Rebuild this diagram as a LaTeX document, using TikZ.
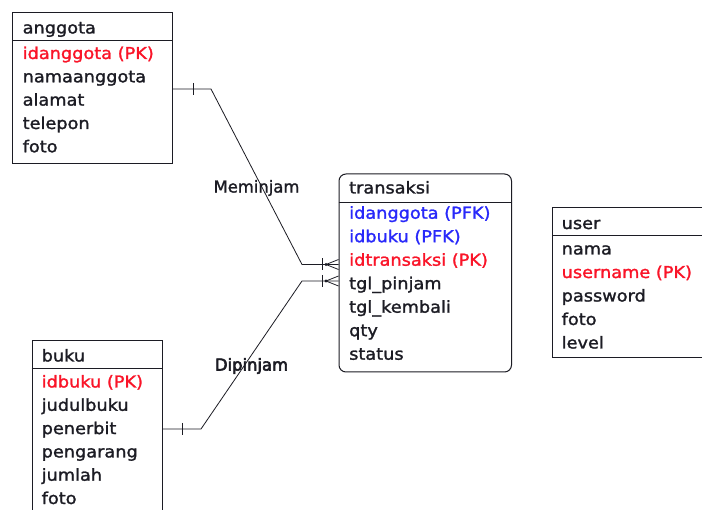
\documentclass[tikz,border=0pt]{standalone}
\usepackage{fontspec}
\setmainfont{DejaVu Sans}[FakeStretch=1.08]
\newfontfamily\relfont{DejaVu Sans}
\usetikzlibrary{calc}
\definecolor{ink}{RGB}{28,28,36}
\definecolor{pkred}{RGB}{250,20,40}
\definecolor{fkblue}{RGB}{40,40,250}
% outlined glyphs give the text a little more weight
\newcommand\inkweight[1]{\special{pdf:literal direct 2 Tr #1 w}}
\begin{document}
\begin{tikzpicture}[x=1pt,y=-1pt,
  entity/.style={draw=ink, line width=1pt, anchor=north west, inner sep=0pt},
  rule/.style={draw=ink, line width=1pt},
  attr/.style={anchor=base west, inner sep=0pt, text=ink, font=\fontsize{16.4}{18}\selectfont\inkweight{0.25}},
  pk/.style={attr, text=pkred},
  fk/.style={attr, text=fkblue},
  rel/.style={draw=ink, line width=0.8pt},
  relname/.style={inner sep=0pt, text=ink, font=\fontsize{16.4}{18}\relfont\inkweight{0.25}},
  heavyname/.style={relname, font=\fontsize{16.4}{18}\relfont\inkweight{0.6}}]
\clip (0,0) rectangle (702,510);
\fill[white] (0,0) rectangle (702,510);

% ---- entity: anggota
\node[entity, minimum width=160pt, minimum height=151pt] (anggota) at (12,12) {};
\draw[rule] (anggota.west |- 0,41) -- (anggota.east |- 0,41);
\node[attr] (anggotaT) at (22.5,33.5) {anggota};
\node[pk]   (anggota1) at (22.5,59) {idanggota (PK)};
\node[attr] (anggota2) at (22.5,82.3) {namaanggota};
\node[attr] (anggota3) at (22.5,105.6) {alamat};
\node[attr] (anggota4) at (22.5,129) {telepon};
\node[attr] (anggota5) at (22.5,152.3) {foto};

% ---- entity: transaksi
\node[entity, rounded corners=7pt, minimum width=172.5pt, minimum height=198pt] (transaksi) at (338.5,173.5) {};
\draw[rule] (transaksi.west |- 0,202.5) -- (transaksi.east |- 0,202.5);
\node[attr] (transaksiT) at (349,193.5) {transaksi};
\node[fk]   (transaksi1) at (349,218.7) {idanggota (PFK)};
\node[fk]   (transaksi2) at (349,242.2) {idbuku (PFK)};
\node[pk]   (transaksi3) at (349,265.7) {idtransaksi (PK)};
\node[attr] (transaksi4) at (349,289.2) {tgl\_pinjam};
\node[attr] (transaksi5) at (349,312.7) {tgl\_kembali};
\node[attr] (transaksi6) at (349,336.2) {qty};
\node[attr] (transaksi7) at (349,359.7) {status};

% ---- entity: user
\node[entity, minimum width=170pt, minimum height=150pt] (user) at (552,207.5) {};
\draw[rule] (user.west |- 0,235.5) -- (user.east |- 0,235.5);
\node[attr] (userT) at (561.5,229) {user};
\node[attr] (user1) at (561.5,254.5) {nama};
\node[pk]   (user2) at (561.5,278) {username (PK)};
\node[attr] (user3) at (561.5,301.5) {password};
\node[attr] (user4) at (561.5,325) {foto};
\node[attr] (user5) at (561.5,348.5) {level};

% ---- entity: buku
\node[entity, minimum width=130pt, minimum height=200pt] (buku) at (31.5,340.5) {};
\draw[rule] (buku.west |- 0,369) -- (buku.east |- 0,369);
\node[attr] (bukuT) at (41.5,361.5) {buku};
\node[pk]   (buku1) at (41.5,387.5) {idbuku (PK)};
\node[attr] (buku2) at (41.5,410.8) {judulbuku};
\node[attr] (buku3) at (41.5,434.1) {penerbit};
\node[attr] (buku4) at (41.5,457.4) {pengarang};
\node[attr] (buku5) at (41.5,480.7) {jumlah};
\node[attr] (buku6) at (41.5,504) {foto};

% ---- relationship: Meminjam (anggota 1 -- N transaksi)
\coordinate (m0) at (172,89);
\coordinate (m1) at (211,89);
\coordinate (m2) at (302,264.5);
\coordinate (mf) at (326,264.5);
\draw[rel] (anggota.east |- m0) -- (m1) -- (m2) -- (transaksi.west |- m2);
\draw[rel] ($(m0)+(21,-6)$) -- ($(m0)+(21,6)$);
\draw[rel] ($(mf)+(-4,-6)$) -- ($(mf)+(-4,6)$);
\fill[ink] (mf) circle (1.7);
\draw[rel] (mf) -- (transaksi.west |- 0,259.5);
\draw[rel] (mf) -- (transaksi.west |- 0,269.5);
\node[relname] (meminjam) at (256.5,188) {Meminjam};

% ---- relationship: Dipinjam (buku 1 -- N transaksi)
\coordinate (d0) at (161.5,429);
\coordinate (d1) at (201,429);
\coordinate (d2) at (302,281);
\coordinate (df) at (326,281);
\draw[rel] (buku.east |- d0) -- (d1) -- (d2) -- (transaksi.west |- d2);
\draw[rel] ($(d0)+(20.5,-6)$) -- ($(d0)+(20.5,6)$);
\draw[rel] ($(df)+(-4,-6)$) -- ($(df)+(-4,6)$);
\fill[ink] (df) circle (1.7);
\draw[rel] (df) -- (transaksi.west |- 0,276);
\draw[rel] (df) -- (transaksi.west |- 0,286);
\node[heavyname] (dipinjam) at (251.5,366) {Dipinjam};
\end{tikzpicture}
\end{document}
